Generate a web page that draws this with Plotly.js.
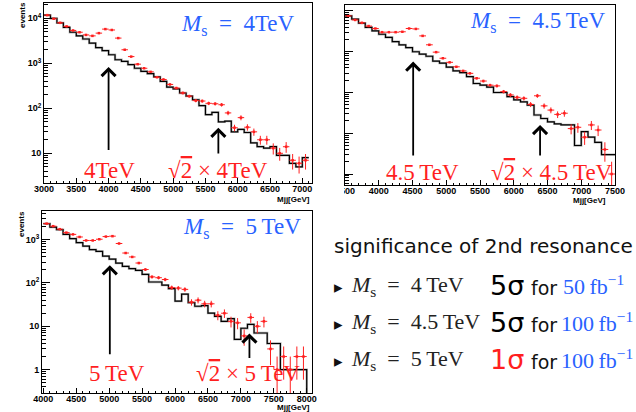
<!DOCTYPE html>
<html><head><meta charset="utf-8">
<script src="https://cdn.plot.ly/plotly-3.0.1.min.js"></script>
<style>html,body{margin:0;padding:0;background:#fff;overflow:hidden}#chart{width:636px;height:412px}</style>
</head><body><div id="chart"></div>
<script>
// ---------------- data (events per 100 GeV bin) ----------------
const binWidth = 100;
const start1 = 3000;   // M_s = 4 TeV panel
const bkg1 = [11750,10000,7940,6310,4900,4070,3470,2820,2240,1905,1550,1200,1100,933,776,661,589,501,398,295,269,219,186,155,115,72,81,50,52,30,34,29,17,14,13,14,9,9,6,5,8];
const sig1 = [11750,9770,7940,6610,5370,4900,4270,4070,4680,5750,5500,3630,2000,1410,955,776,646,490,437,339,282,219,186,148,145,129,126,120,79,37,62,38,30,20,20,13,10,14,7,6,7];
const start2 = 3500;   // M_s = 4.5 TeV panel
const bkg2 = [7590,6310,5010,3980,3240,2690,2240,1780,1480,1260,1000,871,776,589,525,417,339,309,245,166,151,135,100,100,79,66,59,49,28,23,19,17,16,16,5,11,8,6,3,3];
const sig2 = [7590,6030,5130,4270,3720,3020,3020,3020,3090,3720,3630,2450,1480,977,692,550,427,339,295,224,191,151,145,105,87,76,72,51,83,47,37,29,31,13,14,8,16,12,4,1];
const start3 = 4000;   // M_s = 5 TeV panel
const bkg3 = [2340,1950,1700,1320,1050,851,708,589,537,417,355,288,240,214,195,158,105,105,89,74,38,55,35,29,30,20,17,13,15,5,9,11,7,7,4,4,1,1,1,1];
const sig3 = [2340,2040,1740,1450,1320,1150,955,955,1020,1175,1200,813,490,398,288,204,138,132,120,78,76,71,36,40,33,33,18,20,13,12,6,16,10,13,3,1,2,1,2,2];

// resonance arrows: position [GeV], tail and head heights [events]
const arrowX1 = [4000, 5700], arrowTail1 = [11, 9.2], arrowHead1 = [830, 37];
const arrowX2 = [4510, 6390], arrowTail2 = [2.6, 2.6], arrowHead2 = [575, 16];
const arrowX3 = [5010, 7130], arrowTail3 = [2.1, 1.7], arrowHead3 = [257, 6.8];

const massLabels = ['4TeV', '4.5\u2009TeV', '5\u2009TeV'];
const xTitle = 'Mjj[GeV]', yTitle = 'events';

// ---------------- helpers ----------------
const W = 636, H = 412;
const px = x => x / W, py = y => 1 - y / H;
const RED = '#ff1f1f', BLUE = '#2962ff';

function edges(start, n) { const e = []; for (let i = 0; i <= n; i++) e.push(start + i * binWidth); return e; }
function centers(start, n) { const c = []; for (let i = 0; i < n; i++) c.push(start + (i + 0.5) * binWidth); return c; }

function histTraces(start, bkg, sig, xa, ya, dropEnd) {
  const ex = edges(start, bkg.length);
  const ey = bkg.concat([bkg[bkg.length - 1]]);
  if (dropEnd) { ex.push(ex[ex.length - 1]); ey.push(1e-4); }
  return [
    {type:'scatter', mode:'lines', x:ex, y:ey, xaxis:xa, yaxis:ya, line:{shape:'hv', color:'rgba(0,0,0,0.3)', width:2.3}, hoverinfo:'skip'},
    {type:'scatter', mode:'lines', x:ex, y:ey, xaxis:xa, yaxis:ya, line:{shape:'hv', color:'#000', width:1.2}, hoverinfo:'skip'},
    {type:'scatter', mode:'markers', x:centers(start, sig.length), y:sig, xaxis:xa, yaxis:ya,
     marker:{color:RED, size:2.5, symbol:'square'},
     error_y:{type:'data', array:sig.map(v => Math.sqrt(v)), color:RED, thickness:1, width:0},
     error_x:{type:'constant', value:binWidth / 2, color:RED, thickness:1, width:0}, hoverinfo:'skip'}
  ];
}

const tickFont = {family:'Liberation Sans', size:9, weight:'bold', color:'#000'};
function xAxis(d0, d1, range, anchor) {
  return {domain:[px(d0), px(d1)], range, anchor, showline:true, mirror:true, linecolor:'#000', linewidth:1,
    ticks:'inside', ticklen:5, tickwidth:1, tickcolor:'#000', tick0:0, dtick:500, ticklabelstandoff:-3,
    minor:{ticks:'inside', ticklen:2.5, dtick:100, tick0:0, tickcolor:'#000', tickwidth:1},
    tickfont:tickFont, showgrid:false, zeroline:false, fixedrange:true};
}
function yAxis(t, b, range, anchor, labels) {
  const dec = [], txt = [], minors = [];
  for (let e = -1; e <= 5; e++) {
    const v = Math.pow(10, e);
    dec.push(v);
    txt.push(e === 0 ? '1' : e === 1 ? '10' : e < 0 ? '' : '10<sup>' + e + '</sup>');
    for (let k = 2; k <= 9; k++) minors.push(k * v);
  }
  return {type:'log', domain:[py(b), py(t)], range, anchor, showline:true, mirror:true, linecolor:'#000', linewidth:1,
    tickmode:'array', tickvals:dec, ticktext:txt, showticklabels:labels,
    ticks:'inside', ticklen:8, tickwidth:1, tickcolor:'#000',
    minor:{tickmode:'array', tickvals:minors, ticks:'inside', ticklen:4, tickcolor:'#000', tickwidth:1},
    tickfont:tickFont, showgrid:false, zeroline:false, fixedrange:true};
}

function ann(text, x, y, font, extra) {
  return Object.assign({text, xref:'paper', yref:'paper', x:px(x), y:py(y), showarrow:false,
    xanchor:'left', yanchor:'middle', font}, extra || {});
}
function arrows(xs, tails, heads, xa, ya) {
  return xs.map((x, i) => ({text:'', xref:xa, yref:ya, axref:xa, ayref:ya,
    x, y:Math.log10(heads[i]), ax:x, ay:Math.log10(tails[i]),
    showarrow:true, arrowhead:4, arrowsize:1.5, arrowwidth:1.8, arrowcolor:'#000', standoff:0}));
}

const serif = (s, c) => ({family:'Liberation Serif', size:s, color:c});
const sans = (s, c) => ({family:'DejaVu Sans', size:s, color:c});
const ms = v => '<i>M</i><sub>s</sub>\u2002=\u2002' + v;
const root2 = v => '\u221A<span style="text-decoration:overline">2</span> \u00D7 ' + v;
const lbl = {family:'Liberation Sans', size:8, weight:'bold', color:'#000'};

const data = [].concat(
  histTraces(start1, bkg1, sig1, 'x', 'y', false),
  histTraces(start2, bkg2, sig2, 'x2', 'y2', false),
  histTraces(start3, bkg3, sig3, 'x3', 'y3', true)
);

const annotations = [].concat(
  arrows(arrowX1, arrowTail1, arrowHead1, 'x', 'y'),
  arrows(arrowX2, arrowTail2, arrowHead2, 'x2', 'y2'),
  arrows(arrowX3, arrowTail3, arrowHead3, 'x3', 'y3'),
  [
    // panel labels
    ann(ms('4TeV'), 297, 25, serif(23, BLUE), {xanchor:'right'}),
    ann(ms('4.5\u2009TeV'), 607, 22, serif(23, BLUE), {xanchor:'right'}),
    ann(ms('5\u2009TeV'), 303, 228, serif(23, BLUE), {xanchor:'right'}),
    ann(massLabels[0], 109, 170, serif(23, RED), {xanchor:'center'}),
    ann(root2('4TeV'), 218, 170, serif(23, RED), {xanchor:'center'}),
    ann(massLabels[1], 422, 172, serif(23, RED), {xanchor:'center'}),
    ann(root2('4.5\u2009TeV'), 552, 172, serif(23, RED), {xanchor:'center'}),
    ann(massLabels[2], 117, 373, serif(23, RED), {xanchor:'center'}),
    ann(root2('5\u2009TeV'), 248, 373, serif(23, RED), {xanchor:'center'}),
    // axis titles
    ann(yTitle, 23, 15, lbl, {xanchor:'center', textangle:-90}),
    ann(yTitle, 21, 224, lbl, {xanchor:'center', textangle:-90}),
    ann(xTitle, 312, 199, lbl, {xanchor:'right'}),
    ann(xTitle, 608, 200, lbl, {xanchor:'right'}),
    ann(xTitle, 312, 407, lbl, {xanchor:'right'}),
    // significance block
    ann('significance of 2nd resonance', 332, 246, sans(20, '#111')),
    ann('\u25B8', 332, 287, sans(17, '#111')),
    ann('\u25B8', 332, 324, sans(17, '#111')),
    ann('\u25B8', 332, 361, sans(17, '#111')),
    ann(ms('4\u2009TeV'), 349, 286, serif(22, '#222')),
    ann(ms('4.5\u2009TeV'), 349, 323, serif(22, '#222')),
    ann(ms('5\u2009TeV'), 349, 360, serif(22, '#222')),
    ann('5\u03C3', 488, 285, sans(27, '#000')),
    ann('5\u03C3', 488, 322, sans(27, '#000')),
    ann('1\u03C3', 488, 359, sans(27, RED)),
    ann('for', 529, 288, sans(19, '#111')),
    ann('for', 529, 325, sans(19, '#111')),
    ann('for', 529, 362, sans(19, '#111')),
    ann('50\u2009fb<sup>\u22121</sup>', 561, 285, serif(22, BLUE)),
    ann('100\u2009fb<sup>\u22121</sup>', 559, 322, serif(22, BLUE)),
    ann('100\u2009fb<sup>\u22121</sup>', 559, 359, serif(22, BLUE))
  ]
);

const layout = {
  width: W, height: H, margin:{l:0, r:0, t:0, b:0}, paper_bgcolor:'#fff', plot_bgcolor:'#fff', showlegend:false,
  xaxis: xAxis(44, 312, [3000, 7150], 'y'),
  yaxis: yAxis(3, 183, [0.34, 4.34], 'x', true),
  xaxis2: xAxis(345, 615, [3500, 7500], 'y2'),
  yaxis2: yAxis(5, 185, [-0.27, 4.147], 'x2', false),
  xaxis3: xAxis(42, 312, [3980, 8080], 'y3'),
  yaxis3: yAxis(211, 393, [-0.54, 3.66], 'x3', true),
  annotations,
  shapes: [
    // the 4.5 TeV panel is cropped at its left edge
    {type:'rect', xref:'paper', yref:'paper', x0:px(319), x1:px(344), y0:py(202), y1:py(0), fillcolor:'#fff', line:{width:0}, layer:'above'}
  ]
};

Plotly.newPlot('chart', data, layout, {staticPlot:true, displayModeBar:false});
</script></body></html>
